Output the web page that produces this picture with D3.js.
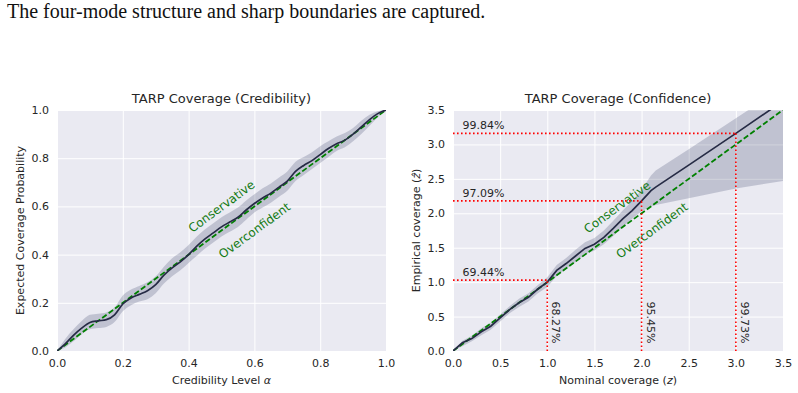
<!DOCTYPE html>
<html>
<head>
<meta charset="utf-8">
<script src="https://cdn.jsdelivr.net/npm/d3@7"></script>
<style>
	body { margin: 0; background: #fff; }
	text { font-family: "DejaVu Sans", sans-serif; fill: #262626; }
</style>
</head>
<body>
<svg id="viz"></svg>
<script>

// the data: credibility panel (TARP expected coverage)
var credAlpha = [0, 0.025, 0.05, 0.075, 0.1, 0.125, 0.15, 0.175, 0.2, 0.225, 0.25, 0.275, 0.3, 0.325, 0.35, 0.375, 0.4, 0.425, 0.45, 0.475, 0.5,
	0.525, 0.55, 0.575, 0.6, 0.625, 0.65, 0.675, 0.7, 0.725, 0.75, 0.775, 0.8, 0.825, 0.85, 0.875, 0.9, 0.925, 0.95, 0.975, 1];
var credEcp = [0, 0.03, 0.065, 0.095, 0.118, 0.125, 0.13, 0.15, 0.195, 0.22, 0.235, 0.25, 0.275, 0.315, 0.345, 0.37, 0.4, 0.435, 0.465, 0.49, 0.515,
	0.535, 0.555, 0.585, 0.612, 0.635, 0.655, 0.68, 0.705, 0.745, 0.77, 0.79, 0.815, 0.84, 0.86, 0.875, 0.9, 0.93, 0.96, 0.985, 1];
var credLower = [0, 0.015, 0.04, 0.07, 0.09, 0.095, 0.1, 0.12, 0.165, 0.19, 0.205, 0.215, 0.24, 0.28, 0.31, 0.335, 0.365, 0.395, 0.425, 0.45, 0.475,
	0.495, 0.515, 0.545, 0.575, 0.595, 0.615, 0.64, 0.665, 0.705, 0.73, 0.755, 0.78, 0.805, 0.83, 0.845, 0.87, 0.9, 0.935, 0.97, 1];
var credUpper = [0, 0.05, 0.09, 0.125, 0.15, 0.155, 0.16, 0.18, 0.23, 0.255, 0.27, 0.285, 0.31, 0.35, 0.385, 0.41, 0.44, 0.475, 0.505, 0.53, 0.555,
	0.575, 0.595, 0.625, 0.65, 0.675, 0.695, 0.72, 0.745, 0.785, 0.805, 0.825, 0.85, 0.87, 0.89, 0.905, 0.925, 0.955, 0.98, 0.995, 1];

// confidence panel (nominal vs empirical z)
var confZ = [0, 0.1, 0.2, 0.3, 0.4, 0.5, 0.6, 0.7, 0.8, 0.9, 1.0, 1.1, 1.2, 1.3, 1.4, 1.5, 1.6, 1.7, 1.8, 1.9, 2.0, 2.1, 2.15, 2.5, 3.0, 3.5];
var confZhat = [0, 0.12, 0.18, 0.28, 0.36, 0.48, 0.6, 0.7, 0.78, 0.9, 1.0, 1.17, 1.27, 1.38, 1.49, 1.55, 1.65, 1.78, 1.92, 2.04, 2.18, 2.33, 2.38, 2.7, 3.16, 3.63];
var confLower = [0, 0.07, 0.14, 0.23, 0.31, 0.43, 0.55, 0.64, 0.72, 0.84, 0.93, 1.09, 1.19, 1.29, 1.4, 1.46, 1.55, 1.67, 1.8, 1.92, 2.03, 2.1, 2.12, 2.22, 2.36, 2.47];
var confUpper = [0, 0.15, 0.22, 0.33, 0.41, 0.53, 0.65, 0.76, 0.84, 0.96, 1.07, 1.25, 1.35, 1.47, 1.58, 1.64, 1.75, 1.89, 2.04, 2.18, 2.34, 2.55, 2.62, 2.93, 3.38, 3.83];

// sigma reference marks
var sigmaZ = [1, 2, 3];
var sigmaZhat = [1.03, 2.18, 3.16];
var nominalPct = ["68.27%", "95.45%", "99.73%"];
var empiricalPct = ["69.44%", "97.09%", "99.84%"];

// tick labels
var credTicks = [0, 0.2, 0.4, 0.6, 0.8, 1.0];
var confTicks = [0, 0.5, 1.0, 1.5, 2.0, 2.5, 3.0, 3.5];



// set up the svg
var w = 798;
var h = 393;
var viz = d3.select("#viz").attr("width", w).attr("height", h);

viz.append("text")
	.attr("x", 7).attr("y", 18)
	.style("font-family", "'Liberation Serif', 'Times New Roman', serif")
	.style("font-size", "20px")
	.style("fill", "#111")
	.text("The four-mode structure and sharp boundaries are captured.");



function panel(opt) {
	var g = viz.append("g");
	var x = d3.scaleLinear().domain(opt.domain).range([opt.left, opt.right]);
	var y = d3.scaleLinear().domain(opt.domain).range([opt.bottom, opt.top]);

	// background + grid
	g.append("rect")
		.attr("x", opt.left).attr("y", opt.top)
		.attr("width", opt.right - opt.left).attr("height", opt.bottom - opt.top)
		.attr("fill", "#eaeaf2");

	var gx = g.append("g").attr("transform", "translate(0," + opt.bottom + ")")
		.call(d3.axisBottom(x).tickValues(opt.ticks).tickFormat(d3.format(".1f")).tickSize(-(opt.bottom - opt.top)).tickPadding(8));
	var gy = g.append("g").attr("transform", "translate(" + opt.left + ",0)")
		.call(d3.axisLeft(y).tickValues(opt.ticks).tickFormat(d3.format(".1f")).tickSize(-(opt.right - opt.left)).tickPadding(8));
	[gx, gy].forEach(function(a) {
		a.select(".domain").remove();
		a.selectAll(".tick line").attr("stroke", "#fff").attr("stroke-width", 1);
		a.selectAll(".tick text").style("font-size", "11px").style("font-family", "DejaVu Sans").attr("fill", "#262626");
	});

	var clipId = "clip" + opt.id;
	g.append("clipPath").attr("id", clipId).append("rect")
		.attr("x", opt.left).attr("y", opt.top)
		.attr("width", opt.right - opt.left).attr("height", opt.bottom - opt.top);
	var inner = g.append("g").attr("clip-path", "url(#" + clipId + ")");

	// the band
	var band = d3.area()
		.x(function(d, i) { return x(opt.xs[i]); })
		.y0(function(d, i) { return y(opt.lower[i]); })
		.y1(function(d, i) { return y(opt.upper[i]); })
		.curve(opt.curve);
	inner.append("path")
		.datum(opt.xs)
		.attr("d", band)
		.attr("fill", "#283058")
		.attr("fill-opacity", 0.21)
		.attr("stroke", "none");

	// diagonal
	inner.append("path")
		.datum(opt.domain)
		.attr("d", d3.line().x(function(d) { return x(d); }).y(function(d) { return y(d); }))
		.attr("stroke", "#008000").attr("stroke-width", 1.8)
		.attr("stroke-dasharray", "5.5,2.5").attr("fill", "none");

	// the line
	var line = d3.line()
		.x(function(d, i) { return x(opt.xs[i]); })
		.y(function(d, i) { return y(opt.ys[i]); })
		.curve(opt.curve);
	inner.append("path")
		.datum(opt.xs)
		.attr("d", line)
		.attr("stroke", "#262b45").attr("stroke-width", 1.7).attr("fill", "none");

	// labels along the diagonal
	var ang = -Math.atan2(opt.bottom - opt.top, opt.right - opt.left) * 180 / Math.PI;
	[["Conservative", opt.cons], ["Overconfident", opt.over]].forEach(function(t) {
		g.append("text")
			.attr("transform", "translate(" + x(t[1][0]) + "," + y(t[1][1]) + ") rotate(" + ang + ")")
			.attr("text-anchor", "middle")
			.attr("dy", "0.35em")
			.style("font-size", "12px")
			.style("fill", "#137a13")
			.text(t[0]);
	});

	// title and axis labels
	g.append("text")
		.attr("x", (opt.left + opt.right) / 2).attr("y", opt.top - 7)
		.attr("text-anchor", "middle")
		.style("font-size", "13px")
		.text(opt.title);

	var xl = g.append("text")
		.attr("x", (opt.left + opt.right) / 2).attr("y", opt.bottom + 33)
		.attr("text-anchor", "middle")
		.style("font-size", "11px");
	xl.append("tspan").text(opt.xlabel[0]);
	xl.append("tspan").style("font-style", "italic").text(opt.xlabel[1]);
	xl.append("tspan").text(opt.xlabel[2]);

	var yl = g.append("text")
		.attr("transform", "translate(" + opt.ylabelX + "," + ((opt.top + opt.bottom) / 2) + ") rotate(-90)")
		.attr("text-anchor", "middle")
		.style("font-size", "11px");
	yl.append("tspan").text(opt.ylabel[0]);
	yl.append("tspan").style("font-style", "italic").text(opt.ylabel[1]);
	yl.append("tspan").text(opt.ylabel[2]);

	return {g: g, x: x, y: y};
}



// left: credibility
panel({
	id: 1, left: 57, right: 386, top: 110, bottom: 351,
	domain: [0, 1], ticks: credTicks,
	xs: credAlpha, ys: credEcp, lower: credLower, upper: credUpper,
	curve: d3.curveMonotoneX,
	cons: [0.5, 0.6], over: [0.6, 0.5],
	title: "TARP Coverage (Credibility)",
	xlabel: ["Credibility Level ", "\u03b1", ""],
	ylabel: ["Expected Coverage Probability", "", ""],
	ylabelX: 24
});

// right: confidence
var conf = panel({
	id: 2, left: 453, right: 783, top: 110, bottom: 351,
	domain: [0, 3.5], ticks: confTicks,
	xs: confZ, ys: confZhat, lower: confLower, upper: confUpper,
	curve: d3.curveLinear,
	cons: [1.74, 2.09], over: [2.11, 1.75],
	title: "TARP Coverage (Confidence)",
	xlabel: ["Nominal coverage (", "z", ")"],
	ylabel: ["Empirical coverage (", "\u1e91", ")"],
	ylabelX: 420
});



// draw the sigma reference lines
var cx = conf.x, cy = conf.y;
conf.g.selectAll("line.hsig")
	.data(sigmaZ)
	.enter()
	.append("line")
	.attr("class", "hsig")
	.attr("x1", cx(0))
	.attr("x2", function(d) { return cx(d); })
	.attr("y1", function(d, i) { return cy(sigmaZhat[i]); })
	.attr("y2", function(d, i) { return cy(sigmaZhat[i]); })
	.attr("stroke", "#ff0000").attr("stroke-width", 1.6)
	.attr("stroke-dasharray", "1.6,2.4");

conf.g.selectAll("line.vsig")
	.data(sigmaZ)
	.enter()
	.append("line")
	.attr("class", "vsig")
	.attr("x1", function(d) { return cx(d); })
	.attr("x2", function(d) { return cx(d); })
	.attr("y1", cy(0))
	.attr("y2", function(d, i) { return cy(sigmaZhat[i]); })
	.attr("stroke", "#ff0000").attr("stroke-width", 1.6)
	.attr("stroke-dasharray", "1.6,2.4");

conf.g.selectAll("text.emp")
	.data(empiricalPct)
	.enter()
	.append("text")
	.attr("class", "emp")
	.attr("x", cx(0.1))
	.attr("y", function(d, i) { return cy(sigmaZhat[i] + 0.06); })
	.style("font-size", "11px")
	.text(function(d) { return d; });

conf.g.selectAll("text.nom")
	.data(nominalPct)
	.enter()
	.append("text")
	.attr("class", "nom")
	.attr("transform", function(d, i) { return "translate(" + (cx(sigmaZ[i]) + 5) + "," + cy(0.72) + ") rotate(90)"; })
	.style("font-size", "11px")
	.text(function(d) { return d; });

</script>
</body>
</html>
